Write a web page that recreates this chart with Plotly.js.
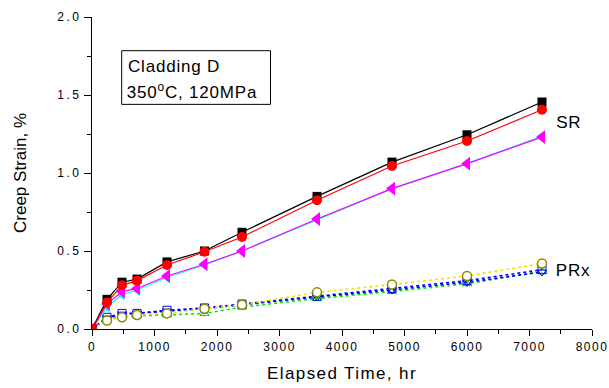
<!DOCTYPE html>
<html>
<head>
<meta charset="utf-8">
<script src="https://cdn.plot.ly/plotly-3.0.1.min.js"></script>
<style>
html, body { margin: 0; padding: 0; background: #fff; }
#chart { width: 609px; height: 388px; }
.xtick text { letter-spacing: 1.5px; }
.ytick text { letter-spacing: 2.5px; }
text.xtitle { letter-spacing: 1.4px; }
.annotation-text-g text { letter-spacing: 0.8px; }
</style>
</head>
<body>
<div id="chart"></div>
<script>
// Elapsed time, hr
const time = [0, 240, 480, 720, 1200, 1800, 2400, 3600, 4800, 6000, 7200];

// SR group
const srBlack   = [0, 0.19, 0.30, 0.32, 0.43, 0.50, 0.62, 0.85, 1.07, 1.245, 1.455];
const srRed     = [0, 0.17, 0.28, 0.31, 0.41, 0.495, 0.59, 0.825, 1.045, 1.205, 1.405];
const srMagenta = [0, 0.16, 0.24, 0.26, 0.34, 0.415, 0.50, 0.705, 0.90, 1.06, 1.23];
const srCyan    = [0, 0.14, 0.22, 0.25, 0.33, 0.41, 0.50, 0.70, 0.90, 1.06, 1.235];

// PRx group
const prxBlueSq  = [0, 0.075, 0.10, 0.10, 0.12, 0.135, 0.16, 0.21, 0.26, 0.31, 0.38];
const prxBlueTri = [0, 0.07, 0.095, 0.10, 0.115, 0.13, 0.155, 0.205, 0.25, 0.30, 0.365];
const prxGreen   = [0, 0.06, 0.08, 0.085, 0.09, 0.10, 0.14, 0.195, 0.24, 0.29, 0.37];
const prxOlive   = [0, 0.055, 0.075, 0.09, 0.10, 0.13, 0.155, 0.235, 0.285, 0.34, 0.42];

const xTicks = [0, 1000, 2000, 3000, 4000, 5000, 6000, 7000, 8000];
const yTicks = [0, 0.5, 1.0, 1.5, 2.0];
const yTickText = ['0.0', '0.5', '1.0', '1.5', '2.0'];

function tr(y, lineColor, dash, sym, mColor, size, open) {
  return {
    x: time, y: y, type: 'scatter', mode: 'lines+markers',
    line: {color: lineColor, width: dash === 'solid' ? 1.2 : 1.6, dash: dash},
    marker: open
      ? {symbol: sym, size: size, color: 'rgba(255,255,255,1)', line: {color: mColor, width: 1.5}}
      : {symbol: sym, size: size, color: mColor, line: {width: 0}},
    showlegend: false, hoverinfo: 'skip'
  };
}

const data = [
  tr(prxGreen, '#00ee00', 'dot', 'triangle-up-open', '#00cc00', 8, false),
  tr(prxBlueSq, '#0000ff', 'dot', 'square-open', '#0000ff', 8, false),
  tr(prxBlueTri, '#0000ff', 'dot', 'triangle-down-open', '#0000ff', 8, false),
  tr(prxOlive, '#e8e800', 'dot', 'circle', '#8a8a00', 9, true),
  tr(srCyan, '#00ffff', 'solid', 'triangle-left', '#00ffff', 10, false),
  tr(srMagenta, '#ff00ff', 'solid', 'triangle-left', '#ff00ff', 12, false),
  tr(srBlack, '#000000', 'solid', 'square', '#000000', 9, false),
  tr(srRed, '#ff0000', 'solid', 'circle', '#ff0000', 10, false)
];

const fam = 'Liberation Sans, Arial, sans-serif';
const tickFont = {family: fam, size: 12, color: '#000'};
const titleFont = {family: fam, size: 17, color: '#000'};

const layout = {
  width: 609, height: 388,
  margin: {l: 92, r: 17, t: 17, b: 59},
  paper_bgcolor: '#fff', plot_bgcolor: '#fff',
  showlegend: false,
  xaxis: {
    range: [0, 8000], tickmode: 'array', tickvals: xTicks, ticktext: xTicks.map(String),
    ticks: 'outside', ticklen: 6, tickwidth: 1, tickcolor: '#000',
    minor: {dtick: 500, tick0: 0, ticks: 'outside', ticklen: 4, tickwidth: 1, tickcolor: '#000', showgrid: false},
    showline: true, linecolor: '#000', linewidth: 1.2, showgrid: false, zeroline: false,
    tickfont: tickFont,
    title: {text: 'Elapsed Time, hr', font: titleFont, standoff: 14}
  },
  yaxis: {
    range: [0, 2.0], tickmode: 'array', tickvals: yTicks, ticktext: yTickText,
    ticks: 'outside', ticklen: 7, tickwidth: 1, tickcolor: '#000',
    minor: {dtick: 0.25, tick0: 0, ticks: 'outside', ticklen: 4, tickwidth: 1, tickcolor: '#000', showgrid: false},
    showline: true, linecolor: '#000', linewidth: 1.2, showgrid: false, zeroline: false,
    tickfont: tickFont,
    title: {text: 'Creep Strain, %', font: titleFont, standoff: 26}
  },
  xaxis2: {
    overlaying: 'x', side: 'top', anchor: 'y', range: [0, 8000],
    tickmode: 'array', tickvals: xTicks, showticklabels: false,
    ticks: 'inside', ticklen: 6, tickwidth: 1, tickcolor: '#000',
    minor: {dtick: 500, tick0: 0, ticks: 'inside', ticklen: 4, tickwidth: 1, tickcolor: '#000', showgrid: false},
    showline: true, linecolor: '#000', linewidth: 1.2, showgrid: false, zeroline: false
  },
  yaxis2: {
    overlaying: 'y', side: 'right', anchor: 'x', range: [0, 2.0],
    tickmode: 'array', tickvals: yTicks, showticklabels: false,
    ticks: 'inside', ticklen: 7, tickwidth: 1, tickcolor: '#000',
    minor: {dtick: 0.25, tick0: 0, ticks: 'inside', ticklen: 4, tickwidth: 1, tickcolor: '#000', showgrid: false},
    showline: true, linecolor: '#000', linewidth: 1.2, showgrid: false, zeroline: false
  },
  shapes: [
    {type: 'rect', xref: 'paper', yref: 'paper', x0: 0.0594, x1: 0.357, y0: 0.720, y1: 0.892,
     line: {color: '#000', width: 1}, fillcolor: 'rgba(0,0,0,0)'}
  ],
  annotations: [
    {xref: 'paper', yref: 'paper', x: 0.0766, y: 0.840, xanchor: 'left', yanchor: 'middle',
     text: 'Cladding D', showarrow: false, font: {family: fam, size: 17, color: '#000'}},
    {xref: 'paper', yref: 'paper', x: 0.0766, y: 0.763, xanchor: 'left', yanchor: 'middle',
     text: '350<sup>o</sup>C, 120MPa', showarrow: false, font: {family: fam, size: 17, color: '#000'}},
    {xref: 'paper', yref: 'paper', x: 0.926, y: 0.663, xanchor: 'left', yanchor: 'middle',
     text: 'SR', showarrow: false, font: {family: fam, size: 17, color: '#000'}},
    {xref: 'paper', yref: 'paper', x: 0.926, y: 0.189, xanchor: 'left', yanchor: 'middle',
     text: 'PRx', showarrow: false, font: {family: fam, size: 17, color: '#000'}}
  ]
};

Plotly.newPlot('chart', data, layout, {staticPlot: true, displayModeBar: false});
</script>
</body>
</html>
